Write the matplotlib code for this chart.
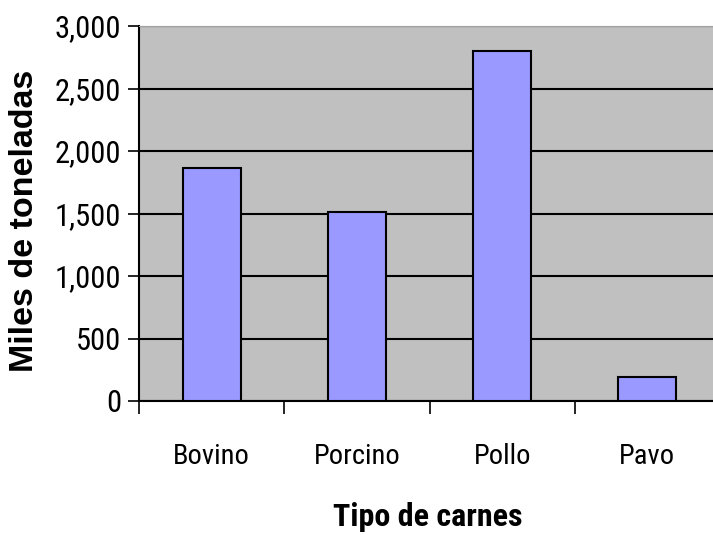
import matplotlib
matplotlib.use("Agg")
import matplotlib.pyplot as plt
from matplotlib import font_manager as fm

categories = ["Bovino", "Porcino", "Pollo", "Pavo"]
values = [1865, 1515, 2800, 190]
yticks = [0, 500, 1000, 1500, 2000, 2500, 3000]
ytick_labels = ["0", "500", "1,000", "1,500", "2,000", "2,500", "3,000"]
xlabel = "Tipo de carnes"
ylabel = "Miles de toneladas"


def pick(patterns):
    files = [f.fname for f in fm.fontManager.ttflist]
    for p in patterns:
        for f in files:
            if f.split("/")[-1].lower().startswith(p.lower()):
                return fm.FontProperties(fname=f)
    return fm.FontProperties(family="DejaVu Sans")


narrow = pick(["LiberationSansNarrow-Regular", "RobotoCondensed-Regular", "RobotoCondensed[",
               "PTSansNarrow-Regular", "ArchivoNarrow[", "DejaVuSansCondensed.ttf"])
narrow_bold = pick(["LiberationSansNarrow-Bold.", "RobotoCondensed-Bold.", "PTSansNarrow-Bold",
                    "DejaVuSansCondensed-Bold.ttf"])
arial_bold = pick(["LiberationSans-Bold.", "Arimo-Bold"])

fig = plt.figure(figsize=(7.13, 5.35), dpi=100)
W, H = 713, 535
left, right, top, bottom = 139, 720, 26, 401
ax = fig.add_axes([left / W, 1 - bottom / H, (right - left) / W, (bottom - top) / H])
ax.set_facecolor("#C0C0C0")
x = list(range(len(categories)))
ax.bar(x, values, width=0.40, color="#9999FF", edgecolor="black", linewidth=1.5, zorder=3)
ax.set_xlim(-0.5, len(categories) - 0.5)
ax.set_ylim(0, 3000)
ax.set_yticks(yticks)
ax.set_yticklabels(ytick_labels)
for t in ax.get_yticklabels():
    t.set_fontproperties(narrow)
    t.set_fontsize(22)
ax.yaxis.grid(True, color="black", linewidth=1.5, zorder=1)
ax.set_axisbelow(True)
ax.set_xticks(x)
ax.set_xticklabels(categories)
for t in ax.get_xticklabels():
    t.set_fontproperties(narrow)
    t.set_fontsize(20.5)
ax.set_xticks([i - 0.5 for i in range(len(categories) + 1)], minor=True)
ax.tick_params(axis="x", which="major", length=0, pad=30)
ax.tick_params(axis="x", which="minor", length=9, width=1.2, direction="out")
ax.tick_params(axis="y", length=8, width=1.2, direction="out", pad=5)
for s in ["top", "right"]:
    ax.spines[s].set_color("#A0A0A0")
ax.spines["left"].set_linewidth(1.5)
ax.spines["bottom"].set_linewidth(1.5)

fig.text(25 / W, 1 - 221 / H, ylabel, rotation=90, ha="center", va="center",
         fontproperties=arial_bold, fontsize=24.5)
fig.text(428 / W, 1 - 517 / H, xlabel, ha="center", va="center",
         fontproperties=narrow_bold, fontsize=23)
fig.savefig("out.png", dpi=100)
